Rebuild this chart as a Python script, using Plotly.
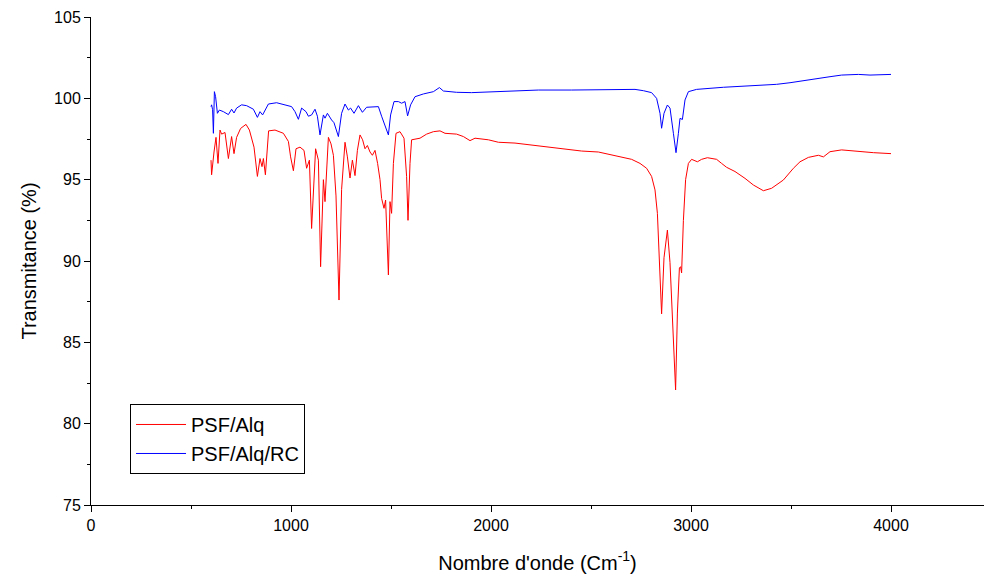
import plotly.graph_objects as go

# PSF/Alq (red) spectrum: wavenumber (cm-1) and transmittance (%)
red_wn = [600, 603, 615, 625, 635, 645, 653, 670, 687, 703, 715, 728, 748, 775, 792, 815, 832, 845,
          855, 862, 872, 888, 920, 962, 987, 998, 1012, 1025, 1045, 1065, 1078, 1092, 1103, 1123,
          1137, 1148, 1162, 1170, 1187, 1200, 1212, 1225, 1240, 1253, 1270, 1282, 1295, 1307, 1320,
          1332, 1345, 1358, 1370, 1382, 1395, 1407, 1420, 1433, 1445, 1453, 1465, 1473, 1487, 1495,
          1503, 1512, 1525, 1545, 1565, 1578, 1585, 1595, 1603, 1620, 1645, 1678, 1712, 1745, 1770,
          1828, 1862, 1895, 1920, 1987, 2037, 2120, 2203, 2287, 2370, 2453, 2537, 2620, 2703, 2745,
          2778, 2803, 2820, 2832, 2842, 2853, 2865, 2882, 2895, 2912, 2923, 2932, 2942, 2948, 2953,
          2962, 2973, 2987, 3003, 3032, 3053, 3082, 3128, 3153, 3178, 3220, 3270, 3312, 3362, 3403,
          3462, 3512, 3545, 3587, 3637, 3662, 3695, 3753, 3845, 3912, 4000]
red_t = [96.2, 95.3, 96.7, 97.6, 96.0, 98.05, 97.8, 97.9, 96.3, 97.65, 96.6, 97.6, 98.15, 98.4, 98.05,
         97.0, 95.2, 96.3, 95.8, 96.3, 95.3, 98.0, 98.05, 97.85, 97.35, 96.4, 95.55, 96.9, 97.0, 96.8,
         95.7, 96.2, 92.0, 96.9, 96.2, 89.65, 95.0, 93.65, 97.6, 97.2, 96.5, 94.0, 87.6, 94.4, 97.3,
         96.4, 95.1, 96.2, 95.25, 96.8, 97.75, 97.45, 96.9, 97.1, 96.7, 96.5, 96.8, 96.0, 95.0, 93.85,
         93.24, 93.75, 89.14, 93.65, 92.93, 96.0, 97.85, 97.95, 97.55, 95.2, 92.5, 96.0, 97.45, 97.5,
         97.55, 97.8, 97.95, 98.0, 97.85, 97.8, 97.65, 97.4, 97.55, 97.45, 97.3, 97.25, 97.13, 97.03,
         96.9, 96.76, 96.7, 96.48, 96.25, 96.0, 95.7, 95.2, 94.37, 92.93, 89.9, 86.75, 90.2, 91.9,
         89.9, 84.7, 82.07, 86.8, 89.57, 89.65, 89.27, 92.5, 95.0, 96.0, 96.25, 96.1, 96.25, 96.35,
         96.25, 96.0, 95.76, 95.5, 95.08, 94.67, 94.32, 94.47, 94.98, 95.7, 96.1, 96.37, 96.5, 96.4,
         96.72, 96.83, 96.72, 96.66, 96.6]

# PSF/Alq/RC (blue) spectrum
blue_wn = [600, 603, 608, 612, 617, 623, 632, 642, 662, 687, 703, 715, 728, 753, 778, 812, 832, 845,
           858, 870, 887, 928, 978, 1003, 1020, 1037, 1053, 1075, 1087, 1103, 1120, 1132, 1145, 1162,
           1170, 1182, 1203, 1215, 1237, 1253, 1270, 1287, 1298, 1315, 1337, 1357, 1378, 1437, 1453,
           1470, 1487, 1498, 1515, 1537, 1553, 1570, 1583, 1598, 1620, 1662, 1712, 1742, 1762, 1828,
           1903, 2070, 2237, 2403, 2570, 2720, 2762, 2803, 2828, 2845, 2853, 2865, 2882, 2895, 2912,
           2925, 2937, 2945, 2957, 2970, 2987, 3028, 3162, 3295, 3428, 3495, 3578, 3645, 3695, 3753,
           3837, 3895, 4000]
blue_t = [99.49, 99.6, 99.3, 97.85, 100.41, 100.1, 99.08, 99.28, 99.18, 99.0, 99.33, 99.1, 99.4, 99.6,
          99.55, 99.33, 98.83, 99.18, 98.98, 99.28, 99.65, 99.73, 99.55, 99.49, 99.18, 98.71, 99.4,
          99.18, 98.9, 98.98, 99.33, 98.9, 97.75, 98.98, 98.78, 99.08, 98.67, 98.5, 97.65, 99.08,
          99.65, 99.28, 99.4, 99.08, 99.55, 99.14, 99.45, 99.49, 98.9, 98.36, 97.75, 98.98, 99.8,
          99.8, 99.7, 99.8, 98.92, 99.6, 100.1, 100.27, 100.41, 100.66, 100.45, 100.37, 100.35,
          100.43, 100.51, 100.51, 100.55, 100.55, 100.47, 100.35, 100.0, 99.08, 98.16, 99.08, 99.59,
          99.4, 97.85, 96.66, 97.85, 98.77, 98.7, 99.9, 100.41, 100.55, 100.68, 100.78, 100.86,
          100.96, 101.13, 101.27, 101.33, 101.43, 101.47, 101.43, 101.47]

FONT = "Liberation Sans, Arial, sans-serif"

fig = go.Figure()
fig.add_trace(go.Scatter(x=red_wn, y=red_t, mode="lines", name="PSF/Alq",
                         line=dict(color="#FF0000", width=1)))
fig.add_trace(go.Scatter(x=blue_wn, y=blue_t, mode="lines", name="PSF/Alq/RC",
                         line=dict(color="#0000FF", width=1)))

fig.update_layout(
    width=984, height=583,
    margin=dict(l=91, r=0, t=17, b=78),
    paper_bgcolor="white", plot_bgcolor="white",
    font=dict(family=FONT, color="black", size=16),
    showlegend=True,
    legend=dict(x=0.0437, y=0.207, xanchor="left", yanchor="top",
                bordercolor="black", borderwidth=1, bgcolor="white",
                font=dict(size=20, family=FONT), itemwidth=50,
                tracegroupgap=0),
    xaxis=dict(range=[0, 4465], dtick=1000, tick0=0, showgrid=False, zeroline=False,
               showline=True, linecolor="black", linewidth=1,
               ticks="outside", ticklen=6, tickcolor="black",
               minor=dict(ticks="outside", ticklen=3, dtick=500, tickcolor="black", showgrid=False),
               tickfont=dict(size=16),
               title=dict(text="Nombre d'onde (Cm<sup>-1</sup>)", font=dict(size=20), standoff=22)),
    yaxis=dict(range=[75, 105], dtick=5, tick0=75, showgrid=False, zeroline=False,
               showline=True, linecolor="black", linewidth=1,
               ticks="outside", ticklen=6, tickcolor="black",
               minor=dict(ticks="outside", ticklen=3, dtick=2.5, tickcolor="black", showgrid=False),
               tickfont=dict(size=16),
               title=dict(text="Transmitance (%)", font=dict(size=20), standoff=12)),
)

fig.write_html("out.html")
